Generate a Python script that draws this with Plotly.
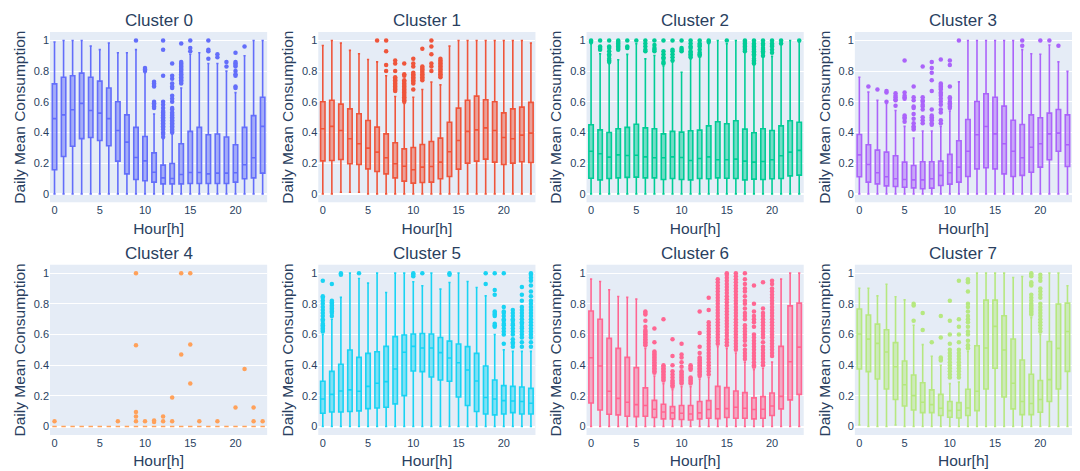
import plotly.graph_objects as go
from plotly.subplots import make_subplots

HOURS = list(range(24))
TITLES = ["Cluster 0", "Cluster 1", "Cluster 2", "Cluster 3",
          "Cluster 4", "Cluster 5", "Cluster 6", "Cluster 7"]
COLORS = ["#636EFA", "#EF553B", "#00CC96", "#AB63FA",
          "#FFA15A", "#19D3F3", "#FF6692", "#B6E880"]

# ---------------- Cluster 0 ----------------
C0_Q1 = [0.157, 0.243, 0.31, 0.36, 0.367, 0.348, 0.313, 0.213, 0.13, 0.093, 0.085, 0.076,
         0.065, 0.065, 0.065, 0.067, 0.067, 0.067, 0.067, 0.067, 0.076, 0.098, 0.104, 0.135]
C0_MED = [0.49, 0.515, 0.548, 0.59, 0.543, 0.526, 0.49, 0.413, 0.337, 0.237, 0.215, 0.141,
          0.104, 0.1, 0.126, 0.139, 0.139, 0.13, 0.135, 0.135, 0.137, 0.19, 0.235, 0.44]
C0_Q3 = [0.717, 0.76, 0.77, 0.787, 0.76, 0.735, 0.69, 0.6, 0.515, 0.433, 0.374, 0.267,
         0.187, 0.198, 0.326, 0.407, 0.433, 0.385, 0.39, 0.37, 0.32, 0.433, 0.51, 0.63]
C0_LO = [0.0] * 24
C0_HI = [0.99, 1.0, 1.0, 1.0, 0.963, 0.94, 0.983, 0.92, 0.92, 0.94, 0.79, 0.52,
         0.36, 0.39, 0.69, 0.91, 0.92, 0.85, 0.85, 0.80, 0.66, 0.9, 1.0, 1.0]
C0_OUT = {
    9: [1.0],
    10: [0.80, 0.81, 0.82],
    11: [0.56, 0.57, 0.58, 0.59, 0.60, 0.70, 0.71, 0.72, 0.73],
    12: [0.37, 0.39, 0.40, 0.42, 0.43, 0.44, 0.45, 0.46, 0.47, 0.48, 0.49, 0.50, 0.51,
         0.52, 0.53, 0.54, 0.56, 0.58, 0.60, 0.77, 0.94, 1.0],
    13: [0.40, 0.41, 0.42, 0.43, 0.44, 0.45, 0.46, 0.47, 0.48, 0.49, 0.50, 0.51, 0.52,
         0.53, 0.55, 0.56, 0.60, 0.62, 0.64, 0.69, 0.70, 0.72, 0.75, 0.77, 0.85],
    14: [0.72, 0.73, 0.74, 0.75, 0.76, 0.77, 0.78, 0.79, 0.80, 0.81, 0.82, 0.83, 0.84,
         0.85, 0.86, 0.98],
    15: [0.93, 0.95, 1.0],
    17: [0.88, 0.93, 0.94, 1.0],
    18: [0.89, 0.91],
    19: [0.83, 0.86],
    20: [0.69, 0.70, 0.77, 0.78, 0.80, 0.83, 0.84, 0.85, 0.86, 0.92],
    21: [0.96],
}

# ---------------- Cluster 1 ----------------
C1_Q1 = [0.215, 0.217, 0.224, 0.196, 0.191, 0.163, 0.146, 0.13, 0.104, 0.083, 0.07, 0.074,
         0.076, 0.098, 0.113, 0.161, 0.2, 0.213, 0.226, 0.207, 0.191, 0.2, 0.209, 0.204]
C1_MED = [0.424, 0.44, 0.413, 0.359, 0.326, 0.298, 0.272, 0.235, 0.196, 0.18, 0.157, 0.174,
          0.178, 0.207, 0.274, 0.348, 0.407, 0.417, 0.43, 0.413, 0.367, 0.359, 0.383, 0.396]
C1_Q3 = [0.6, 0.61, 0.585, 0.554, 0.522, 0.478, 0.435, 0.391, 0.333, 0.293, 0.302, 0.322,
         0.341, 0.363, 0.467, 0.559, 0.61, 0.637, 0.613, 0.6, 0.528, 0.554, 0.565, 0.596]
C1_LO = [0.0, 0.0, 0.01, 0.01, 0.01, 0.0, 0.0, 0.0, 0.0, 0.0, 0.0, 0.0,
         0.0, 0.0, 0.0, 0.0, 0.0, 0.0, 0.0, 0.0, 0.0, 0.0, 0.0, 0.0]
C1_HI = [0.967, 1.0, 0.983, 0.935, 0.913, 0.876, 0.86, 0.77, 0.635, 0.59, 0.63, 0.68,
         0.728, 0.71, 0.963, 1.0, 1.0, 1.0, 1.0, 1.0, 1.0, 1.0, 1.0, 0.983]
C1_OUT = {
    6: [1.0],
    7: [0.80, 0.84, 0.93, 1.0],
    8: [0.67, 0.68, 0.69, 0.70, 0.71, 0.72, 0.73, 0.74, 0.75, 0.76, 0.80, 0.85, 0.87],
    9: [0.60, 0.61, 0.62, 0.63, 0.64, 0.65, 0.66, 0.67, 0.68, 0.69, 0.70, 0.71, 0.72,
        0.73, 0.74, 0.77, 0.78, 0.85],
    10: [0.68, 0.72, 0.73, 0.74, 0.75, 0.76, 0.77, 0.78, 0.79, 0.83, 0.85, 0.88],
    11: [0.74, 0.75, 0.76, 0.77, 0.78, 0.79, 0.80, 0.81, 0.82, 0.83, 0.945],
    12: [0.80, 0.83, 0.85, 0.91, 0.96, 1.0],
    13: [0.76, 0.77, 0.78, 0.79, 0.80, 0.81, 0.82, 0.83, 0.84, 0.85, 0.86, 0.87, 0.88],
}

# ---------------- Cluster 2 ----------------
C2_Q1 = [0.102, 0.091, 0.1, 0.104, 0.107, 0.109, 0.104, 0.104, 0.093, 0.1, 0.093, 0.091,
         0.1, 0.098, 0.104, 0.102, 0.1, 0.091, 0.096, 0.093, 0.098, 0.1, 0.117, 0.122]
C2_MED = [0.278, 0.261, 0.239, 0.254, 0.25, 0.252, 0.241, 0.235, 0.235, 0.241, 0.237, 0.217,
          0.23, 0.241, 0.222, 0.222, 0.226, 0.213, 0.207, 0.211, 0.222, 0.248, 0.272, 0.283]
C2_Q3 = [0.45, 0.417, 0.4, 0.424, 0.433, 0.454, 0.43, 0.424, 0.391, 0.407, 0.402, 0.411,
         0.415, 0.443, 0.47, 0.457, 0.476, 0.422, 0.398, 0.424, 0.413, 0.443, 0.476, 0.467]
C2_LO = [0.0] * 24
C2_HI = [0.978, 0.913, 0.848, 0.874, 0.909, 0.978, 0.88, 0.902, 0.833, 0.859, 0.793, 0.88,
         0.896, 0.978, 1.0, 0.978, 1.0, 0.924, 0.843, 0.891, 0.896, 0.978, 1.0, 0.99]
C2_OUT = {
    0: [0.99, 1.0],
    1: [0.94, 0.95, 0.96, 1.0],
    2: [0.86, 0.87, 0.88, 0.90, 0.91, 0.93, 0.95, 0.96, 1.0],
    3: [0.94, 0.95, 0.96, 0.97, 0.98, 0.99, 1.0],
    4: [0.95, 0.96, 1.0],
    5: [1.0],
    6: [0.93, 0.94, 0.96, 0.98, 1.0],
    7: [0.93, 0.94, 0.95, 0.97, 1.0],
    8: [0.85, 0.86, 0.88, 0.89, 0.91, 0.93, 1.0],
    9: [0.87, 0.89, 0.91, 0.93, 0.94, 1.0],
    10: [0.93, 0.94, 0.95, 1.0],
    11: [0.89, 0.90, 0.91, 0.92, 0.93, 0.95, 0.96, 0.98, 1.0],
    12: [0.90, 0.91, 0.92, 0.94, 0.96, 0.97, 0.98, 1.0],
    13: [0.99, 1.0],
    15: [1.0],
    17: [0.93, 0.94, 0.95, 0.96, 0.97, 0.98, 0.99, 1.0],
    18: [0.85, 0.86, 0.87, 0.88, 0.90, 0.91, 0.92, 0.93, 0.94, 0.95, 0.96, 0.97, 0.98, 1.0],
    19: [0.90, 0.92, 0.93, 0.94, 0.95, 0.97, 0.98, 1.0],
    20: [0.92, 0.94, 0.96, 0.97, 0.98, 1.0],
    21: [0.98, 1.0],
    23: [1.0],
}

# ---------------- Cluster 3 ----------------
C3_Q1 = [0.111, 0.076, 0.065, 0.052, 0.048, 0.043, 0.039, 0.033, 0.037, 0.054, 0.063, 0.076,
         0.113, 0.163, 0.17, 0.163, 0.13, 0.113, 0.12, 0.141, 0.174, 0.222, 0.278, 0.178]
C3_MED = [0.254, 0.191, 0.137, 0.111, 0.098, 0.093, 0.091, 0.091, 0.098, 0.12, 0.137, 0.174,
          0.278, 0.385, 0.439, 0.391, 0.326, 0.278, 0.235, 0.304, 0.326, 0.391, 0.396, 0.32]
C3_Q3 = [0.387, 0.32, 0.285, 0.272, 0.248, 0.207, 0.185, 0.209, 0.209, 0.213, 0.257, 0.346,
         0.485, 0.602, 0.652, 0.63, 0.572, 0.48, 0.452, 0.515, 0.496, 0.526, 0.55, 0.515]
C3_LO = [0.0] * 24
C3_HI = [0.76, 0.663, 0.609, 0.59, 0.543, 0.44, 0.363, 0.41, 0.41, 0.44, 0.54, 0.73,
         1.0, 1.0, 1.0, 1.0, 1.0, 1.0, 0.94, 0.913, 0.91, 0.97, 0.86, 0.798]
C3_OUT = {
    1: [0.70],
    2: [0.68],
    3: [0.60, 0.66, 0.67],
    4: [0.575, 0.61, 0.615, 0.63, 0.64, 0.655],
    5: [0.47, 0.49, 0.50, 0.51, 0.62, 0.63, 0.64, 0.66, 0.87],
    6: [0.42, 0.43, 0.44, 0.46, 0.49, 0.52, 0.56, 0.57, 0.61, 0.63, 0.70],
    7: [0.46, 0.48, 0.50, 0.55, 0.57, 0.58, 0.60, 0.61, 0.63, 0.83],
    8: [0.45, 0.46, 0.48, 0.49, 0.50, 0.51, 0.55, 0.67, 0.74, 0.79, 0.82, 0.86],
    9: [0.46, 0.48, 0.53, 0.55, 0.58, 0.60, 0.62, 0.64, 0.65, 0.66, 0.68, 0.69, 0.70,
        0.71, 0.72, 0.875],
    10: [0.56, 0.57, 0.58, 0.59, 0.60, 0.62, 0.63, 0.70, 0.84, 0.87],
    11: [1.0],
    18: [0.965, 1.0],
    20: [1.0],
    21: [1.0],
    22: [0.965],
}

# ---------------- Cluster 4 ----------------
C4_Q1 = [0.0] * 24
C4_MED = [0.0] * 24
C4_Q3 = [0.0] * 24
C4_LO = [0.0] * 24
C4_HI = [0.0] * 24
C4_OUT = {
    0: [0.035],
    7: [0.035],
    9: [0.035, 0.065, 0.095, 0.53, 1.0],
    10: [0.035],
    11: [0.03, 0.04],
    12: [0.035, 0.065],
    13: [0.035, 0.19],
    14: [0.47, 1.0],
    15: [0.28, 0.535, 1.0],
    16: [0.035],
    18: [0.035],
    20: [0.125],
    21: [0.375],
    22: [0.035, 0.125],
    23: [0.035],
}

# ---------------- Cluster 5 ----------------
C5_Q1 = [0.087, 0.095, 0.095, 0.098, 0.102, 0.117, 0.121, 0.126, 0.148, 0.202, 0.362, 0.358,
         0.323, 0.304, 0.295, 0.193, 0.137, 0.098, 0.082, 0.076, 0.082, 0.091, 0.082, 0.082]
C5_MED = [0.18, 0.21, 0.232, 0.239, 0.23, 0.262, 0.282, 0.293, 0.375, 0.484, 0.523, 0.512,
          0.512, 0.482, 0.447, 0.416, 0.369, 0.297, 0.189, 0.18, 0.169, 0.167, 0.163, 0.152]
C5_Q3 = [0.295, 0.36, 0.406, 0.499, 0.451, 0.477, 0.488, 0.523, 0.586, 0.597, 0.603, 0.607,
         0.603, 0.581, 0.557, 0.538, 0.521, 0.477, 0.395, 0.304, 0.267, 0.262, 0.258, 0.249]
C5_LO = [0.0] * 24
C5_HI = [0.60, 0.70, 0.842, 1.0, 0.965, 0.935, 1.0, 0.874, 1.0, 1.0, 0.944, 0.918,
         1.0, 0.896, 0.939, 1.0, 0.946, 0.907, 0.852, 0.60, 0.50, 0.49, 0.49, 0.49]
C5_OUT = {
    0: [0.62, 0.63, 0.64, 0.65, 0.66, 0.67, 0.69, 0.70, 0.72, 0.74, 0.76, 0.78, 0.80,
        0.82, 0.84, 0.85, 0.95],
    1: [0.72, 0.74, 0.75, 0.76, 0.77, 0.78, 0.79, 0.80, 0.81, 0.82, 0.93],
    2: [0.99, 1.0],
    4: [1.0],
    10: [0.98, 0.99, 1.0],
    11: [1.0],
    14: [0.99, 1.0],
    18: [0.93, 1.0],
    19: [0.65, 0.66, 0.67, 0.72, 0.73, 0.74, 0.75, 0.86, 0.89, 1.0],
    20: [0.54, 0.60, 0.62, 0.64, 0.66, 0.67, 0.69, 0.70, 0.72, 0.74, 0.75, 0.78, 1.0],
    21: [0.52, 0.54, 0.55, 0.57, 0.60, 0.62, 0.64, 0.66, 0.67, 0.69, 0.70, 0.72, 0.74, 0.76],
    22: [0.52, 0.55, 0.58, 0.60, 0.62, 0.64, 0.65, 0.67, 0.68, 0.70, 0.72, 0.74, 0.76,
         0.78, 0.82, 0.86, 0.91],
    23: [0.52, 0.55, 0.58, 0.60, 0.62, 0.64, 0.66, 0.68, 0.70, 0.72, 0.74, 0.76, 0.78,
         0.80, 0.82, 0.85, 0.88, 0.92, 0.95, 0.97, 0.99, 1.0],
}

# ---------------- Cluster 6 ----------------
C6_Q1 = [0.154, 0.108, 0.08, 0.076, 0.067, 0.065, 0.067, 0.059, 0.05, 0.05, 0.046, 0.043,
         0.05, 0.054, 0.052, 0.059, 0.054, 0.054, 0.05, 0.054, 0.072, 0.115, 0.174, 0.21]
C6_MED = [0.449, 0.395, 0.23, 0.184, 0.158, 0.143, 0.137, 0.113, 0.095, 0.089, 0.087, 0.082,
          0.089, 0.111, 0.115, 0.117, 0.126, 0.119, 0.111, 0.113, 0.134, 0.197, 0.423, 0.518]
C6_Q3 = [0.753, 0.7, 0.575, 0.51, 0.451, 0.384, 0.252, 0.171, 0.145, 0.13, 0.137, 0.137,
         0.163, 0.169, 0.262, 0.254, 0.232, 0.221, 0.187, 0.195, 0.219, 0.523, 0.787, 0.805]
C6_LO = [0.0] * 24
C6_HI = [0.961, 0.946, 0.892, 0.848, 0.842, 0.831, 0.51, 0.33, 0.28, 0.24, 0.26, 0.26,
         0.31, 0.32, 0.52, 0.51, 0.48, 0.42, 0.37, 0.38, 0.42, 0.961, 1.0, 1.0]
C6_OUT = {
    6: [0.53, 0.54, 0.55, 0.56, 0.57, 0.58, 0.59, 0.60, 0.61, 0.62, 0.63, 0.65, 0.69,
        0.73, 0.74, 0.75],
    7: [0.35, 0.36, 0.37, 0.38, 0.39, 0.40, 0.41, 0.42, 0.43, 0.44, 0.45, 0.46, 0.47,
        0.48, 0.49, 0.55, 0.64],
    8: [0.30, 0.31, 0.32, 0.33, 0.34, 0.35, 0.36, 0.37, 0.38, 0.39, 0.40, 0.70],
    9: [0.26, 0.27, 0.28, 0.29, 0.30, 0.32, 0.34, 0.36, 0.40, 0.46, 0.57],
    10: [0.28, 0.29, 0.30, 0.31, 0.32, 0.33, 0.34, 0.35, 0.36, 0.39, 0.42, 0.45, 0.47, 0.54],
    11: [0.28, 0.29, 0.30, 0.31, 0.32, 0.37, 0.38, 0.39, 0.40],
    12: [0.33, 0.34, 0.35, 0.36, 0.37, 0.38, 0.39, 0.40, 0.41, 0.42, 0.43, 0.44, 0.45,
         0.48, 0.52, 0.61, 0.75],
    13: [0.34, 0.36, 0.38, 0.40, 0.42, 0.44, 0.46, 0.48, 0.50, 0.52, 0.54, 0.56, 0.58,
         0.60, 0.62, 0.64, 0.66, 0.68, 0.76, 0.84],
    14: [0.54, 0.56, 0.58, 0.60, 0.62, 0.64, 0.66, 0.68, 0.70, 0.72, 0.74, 0.76, 0.78,
         0.80, 0.82, 0.84, 0.86, 0.88, 0.90, 0.92, 0.94, 0.96],
    15: [0.53, 0.55, 0.57, 0.59, 0.61, 0.63, 0.65, 0.67, 0.69, 0.71, 0.73, 0.75, 0.77,
         0.79, 0.81, 0.83, 0.85, 0.87, 0.89, 0.91, 0.93, 0.95, 0.97, 0.99, 1.0],
    16: [0.50, 0.52, 0.54, 0.56, 0.58, 0.60, 0.62, 0.64, 0.66, 0.68, 0.70, 0.72, 0.74,
         0.76, 0.78, 0.80, 0.82, 0.84, 0.86, 0.88, 0.90, 0.92, 0.94, 0.96, 0.98, 1.0],
    17: [0.44, 0.46, 0.48, 0.50, 0.53, 0.56, 0.58, 0.60, 0.62, 0.64, 0.66, 0.70, 0.72,
         0.74, 0.77, 0.80, 0.82, 0.85, 0.88, 0.90, 0.93, 0.96, 1.0],
    18: [0.39, 0.40, 0.42, 0.44, 0.46, 0.48, 0.50, 0.52, 0.54, 0.56, 0.58, 0.60, 0.65,
         0.68, 0.70, 0.72, 0.75, 0.80, 0.92],
    19: [0.40, 0.42, 0.44, 0.46, 0.48, 0.50, 0.52, 0.55, 0.58, 0.60, 0.62, 0.64, 0.66,
         0.68, 0.70, 0.72, 0.74, 0.77, 0.94],
    20: [0.46, 0.48, 0.50, 0.52, 0.54, 0.56, 0.58, 0.60, 0.62, 0.64, 0.66, 0.68, 0.70,
         0.72, 0.74, 0.76, 0.78, 0.80, 0.82, 0.84, 0.86, 0.88, 0.90, 0.93, 0.95],
}

# ---------------- Cluster 7 ----------------
C7_Q1 = [0.375, 0.358, 0.31, 0.245, 0.176, 0.134, 0.108, 0.091, 0.091, 0.072, 0.061, 0.056,
         0.072, 0.104, 0.245, 0.38, 0.193, 0.115, 0.078, 0.078, 0.093, 0.163, 0.245, 0.36]
C7_MED = [0.603, 0.57, 0.542, 0.486, 0.39, 0.273, 0.202, 0.158, 0.143, 0.119, 0.104, 0.106,
          0.121, 0.23, 0.512, 0.653, 0.499, 0.282, 0.163, 0.15, 0.176, 0.306, 0.51, 0.62]
C7_Q3 = [0.766, 0.727, 0.668, 0.631, 0.547, 0.427, 0.336, 0.286, 0.239, 0.21, 0.163, 0.156,
         0.243, 0.527, 0.824, 0.824, 0.722, 0.571, 0.434, 0.341, 0.3, 0.555, 0.798, 0.805]
C7_LO = [0.01, 0.0, 0.0, 0.0, 0.01, 0.0, 0.0, 0.0, 0.0, 0.0, 0.0, 0.0,
         0.0, 0.0, 0.0, 0.0, 0.0, 0.0, 0.0, 0.0, 0.0, 0.0, 0.0, 0.0]
C7_HI = [0.902, 0.902, 0.852, 0.928, 0.846, 0.826, 0.66, 0.534, 0.458, 0.40, 0.28, 0.29,
         0.49, 1.0, 1.0, 1.0, 1.0, 0.972, 0.978, 0.71, 0.60, 1.0, 1.0, 0.918]
C7_OUT = {
    6: [0.69, 0.79, 0.80],
    7: [0.63, 0.74],
    8: [0.55],
    9: [0.43, 0.44, 0.45, 0.58, 0.72],
    10: [0.32, 0.34, 0.36, 0.38, 0.40, 0.42, 0.44, 0.46, 0.48, 0.50, 0.54, 0.60, 0.69, 0.82],
    11: [0.32, 0.34, 0.36, 0.38, 0.40, 0.42, 0.44, 0.46, 0.48, 0.50, 0.55, 0.60, 0.65,
         0.70, 0.95],
    12: [0.51, 0.53, 0.56, 0.60, 0.62, 0.65, 0.68, 0.70, 0.72, 0.75, 0.78, 0.80, 0.88,
         0.94, 0.95, 0.96],
    19: [0.73, 0.74, 0.75, 0.76, 0.77, 0.78, 0.79, 0.80, 0.82, 0.84, 0.86, 0.92, 0.93,
         0.94, 0.98, 0.99, 1.0],
    20: [0.62, 0.64, 0.66, 0.68, 0.70, 0.72, 0.74, 0.76, 0.78, 0.80, 0.84, 0.86, 0.88,
         0.90, 0.95, 0.97, 0.99],
}

CLUSTERS = [
    (C0_Q1, C0_MED, C0_Q3, C0_LO, C0_HI, C0_OUT),
    (C1_Q1, C1_MED, C1_Q3, C1_LO, C1_HI, C1_OUT),
    (C2_Q1, C2_MED, C2_Q3, C2_LO, C2_HI, C2_OUT),
    (C3_Q1, C3_MED, C3_Q3, C3_LO, C3_HI, C3_OUT),
    (C4_Q1, C4_MED, C4_Q3, C4_LO, C4_HI, C4_OUT),
    (C5_Q1, C5_MED, C5_Q3, C5_LO, C5_HI, C5_OUT),
    (C6_Q1, C6_MED, C6_Q3, C6_LO, C6_HI, C6_OUT),
    (C7_Q1, C7_MED, C7_Q3, C7_LO, C7_HI, C7_OUT),
]

fig = make_subplots(rows=2, cols=4, subplot_titles=TITLES,
                    horizontal_spacing=0.05, vertical_spacing=0.155)

for i, (q1, med, q3, lo, hi, out) in enumerate(CLUSTERS):
    r, c = i // 4 + 1, i % 4 + 1
    col = COLORS[i]
    fig.add_trace(go.Box(x=HOURS, q1=q1, median=med, q3=q3,
                         lowerfence=lo, upperfence=hi,
                         marker_color=col, line=dict(color=col, width=1.6),
                         boxpoints=False, showlegend=False),
                  row=r, col=c)
    ox, oy = [], []
    for h, vals in out.items():
        for v in vals:
            ox.append(h)
            oy.append(v)
    fig.add_trace(go.Scatter(x=ox, y=oy, mode="markers",
                             marker=dict(color=col, size=4.5),
                             showlegend=False, hoverinfo="y"),
                  row=r, col=c)
    fig.update_xaxes(title=dict(text="Hour[h]", font=dict(size=15.5), standoff=7),
                     range=[-0.5, 23.5], showgrid=False, automargin=False,
                     tickvals=[0, 5, 10, 15, 20], tickfont=dict(size=11),
                     zeroline=False, row=r, col=c)
    fig.update_yaxes(title=dict(text="Daily Mean Consumption", font=dict(size=15.5),
                                standoff=4),
                     range=[-0.055, 1.055], automargin=False,
                     tickvals=[0, 0.2, 0.4, 0.6, 0.8, 1], tickfont=dict(size=11),
                     row=r, col=c)

fig.update_annotations(font_size=17)
fig.update_layout(width=1080, height=471, template="plotly",
                  font=dict(family="Arial, 'Liberation Sans', sans-serif"),
                  margin=dict(l=50, r=8, t=32, b=36), showlegend=False)

fig.write_html("out.html", config={"displayModeBar": False},
               post_script="document.body.style.margin='0px';"
                           "document.body.style.overflow='hidden';")
